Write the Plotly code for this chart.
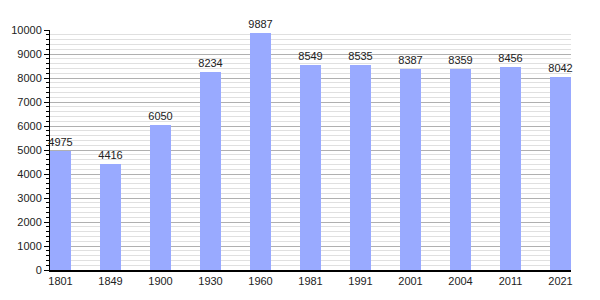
import plotly.graph_objects as go

years = ["1801", "1849", "1900", "1930", "1960", "1981", "1991", "2001", "2004", "2011", "2021"]
population = [4975, 4416, 6050, 8234, 9887, 8549, 8535, 8387, 8359, 8456, 8042]

fig = go.Figure()
fig.add_trace(go.Bar(
    x=years, y=population,
    width=0.42,
    marker=dict(color="#99aaff", line=dict(width=0)),
    text=[str(v) for v in population],
    textposition="outside",
    constraintext="none",
    textfont=dict(family="Liberation Sans, Arial, sans-serif", size=11, color="#222222"),
    cliponaxis=False,
))

fig.update_layout(
    width=600, height=300,
    margin=dict(l=50, r=29, t=30, b=30),
    paper_bgcolor="white", plot_bgcolor="white",
    showlegend=False,
    font=dict(family="Liberation Sans, Arial, sans-serif", size=11, color="#222222"),
    bargap=0,
)
fig.update_xaxes(
    type="category",
    range=[-0.21, 10.21],
    showline=True, linecolor="black", linewidth=2,
    showgrid=False, ticks="", tickfont=dict(size=11),
    fixedrange=True,
)
fig.update_yaxes(
    range=[0, 10000], dtick=1000, tickformat="d",
    showline=True, linecolor="black", linewidth=1,
    showgrid=True, gridcolor="#b0b0b0", gridwidth=1,
    ticks="outside", ticklen=5, tickcolor="black",
    tickfont=dict(size=11),
    zeroline=False,
    minor=dict(dtick=200, showgrid=True, gridcolor="#e0e0e0", ticks="outside", ticklen=3, tickcolor="black"),
    layer="below traces",
)

fig.write_html("out.html")
